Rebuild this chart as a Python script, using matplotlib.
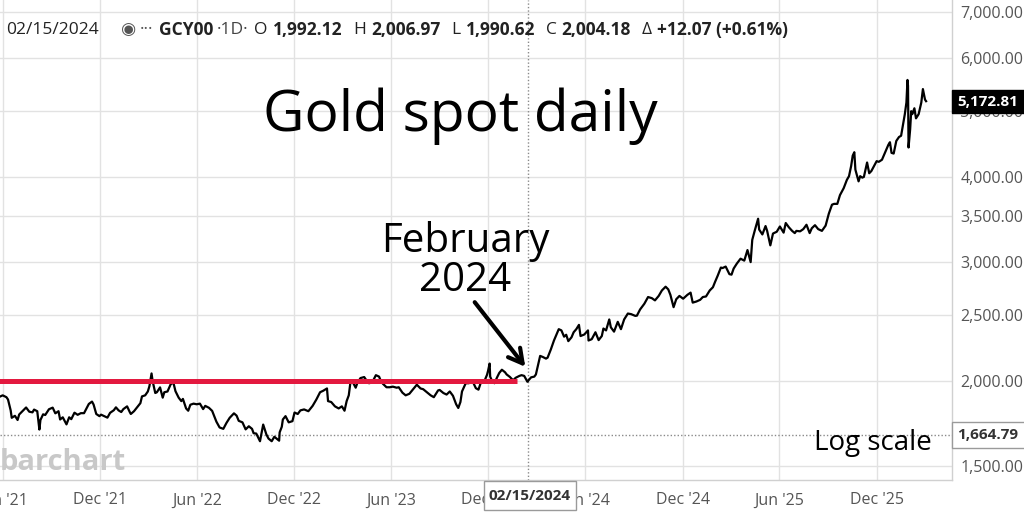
import matplotlib
matplotlib.use('Agg')
import matplotlib.pyplot as plt
import matplotlib.dates as mdates
from matplotlib.patches import Rectangle
from datetime import datetime
import math

plt.rcParams['font.family'] = ['Open Sans', 'DejaVu Sans']

# ---------------- data ----------------
d2021 = ["05-27","06-01","06-08","06-11","06-16","06-18","06-24","06-29","07-02","07-09","07-15","07-21","07-27","07-30",
         "08-05","08-09","08-11","08-16","08-20","08-27","09-03","09-08","09-14","09-17","09-22","09-29","10-04","10-08",
         "10-14","10-20","10-26","11-01","11-05","11-10","11-16","11-19","11-24","11-30","12-03","12-09","12-15","12-20",
         "12-27","12-31"]
p2021 = [1897,1905,1893,1878,1810,1765,1777,1752,1785,1808,1828,1802,1798,1815,
         1805,1696,1752,1786,1782,1817,1827,1792,1805,1755,1768,1726,1768,1757,
         1796,1783,1793,1793,1818,1850,1865,1846,1788,1775,1784,1775,1766,1795,
         1811,1829]

d2022 = ["01-05","01-10","01-14","01-21","01-26","01-28","02-03","02-09","02-15","02-18","02-24","03-01","03-04","03-08",
         "03-10","03-15","03-18","03-24","03-29","04-01","04-07","04-13","04-18","04-22","04-28","05-03","05-06","05-12",
         "05-16","05-20","05-26","06-01","06-07","06-13","06-17","06-24","06-30","07-05","07-08","07-14","07-21","07-27",
         "08-02","08-10","08-15","08-19","08-26","09-01","09-07","09-13","09-16","09-21","09-28","10-04","10-10","10-14",
         "10-20","10-25","11-03","11-04","11-08","11-10","11-15","11-21","11-28","12-02","12-08","12-13","12-20","12-28"]
p2022 = [1810,1800,1818,1835,1800,1788,1805,1830,1855,1898,1905,1930,1965,2052,
         2000,1920,1925,1957,1890,1925,1930,1978,1990,1932,1890,1868,1882,1822,
         1808,1845,1852,1848,1852,1818,1838,1826,1807,1765,1742,1708,1700,1735,
         1765,1792,1778,1747,1738,1697,1715,1700,1675,1673,1630,1725,1668,1645,
         1630,1655,1633,1680,1712,1755,1775,1738,1745,1797,1788,1810,1816,1805]

d2023 = ["01-05","01-12","01-19","01-25","02-01","02-03","02-09","02-16","02-23","03-01","03-06","03-10","03-14","03-17",
         "03-21","03-27","03-30","04-05","04-12","04-18","04-21","04-27","05-04","05-10","05-12","05-17","05-24","05-30",
         "06-05","06-12","06-16","06-23","06-29","07-06","07-12","07-20","07-27","08-01","08-08","08-15","08-21","08-29",
         "09-01","09-08","09-14","09-20","09-26","10-02","10-06","10-10","10-13","10-20","10-26","10-30","11-03","11-08",
         "11-13","11-17","11-24","11-29","12-01","12-04","12-05","12-08","12-13","12-18","12-22","12-27"]
p2023 = [1838,1878,1925,1935,1950,1868,1862,1835,1822,1835,1808,1868,1905,1988,
         1996,1955,1985,2020,2027,1995,1985,1990,2040,2030,2012,1982,1958,1958,
         1962,1955,1958,1922,1905,1915,1940,1975,1950,1945,1925,1905,1893,1937,
         1940,1920,1910,1930,1902,1848,1825,1862,1930,1985,1985,1998,1990,1952,
         1942,1985,1998,2042,2070,2122,2030,2005,1985,2025,2055,2078]

d2024 = ["01-02","01-05","01-11","01-17","01-22","01-29","02-02","02-07","02-13","02-15","02-20","02-26","02-29","03-05",
         "03-08","03-13","03-19","03-22","03-28","04-03","04-09","04-12","04-17","04-22","04-26","04-30","05-06","05-10",
         "05-15","05-20","05-23","05-30","06-06","06-07","06-13","06-20","06-26","07-02","07-05","07-10","07-16","07-19",
         "07-25","08-01","08-07","08-13","08-20","08-26","09-03","09-06","09-12","09-20","09-27","10-04","10-10","10-17",
         "10-23","10-30","11-04","11-08","11-14","11-19","11-25","12-02","12-10","12-16","12-20","12-27"]
p2024 = [2060,2045,2028,2005,2022,2035,2040,2035,1995,2004,2025,2030,2045,2125,
         2178,2170,2158,2165,2225,2295,2355,2385,2375,2325,2340,2290,2320,2360,
         2385,2420,2330,2342,2375,2295,2305,2360,2298,2330,2390,2375,2465,2400,
         2365,2445,2385,2465,2515,2510,2495,2497,2550,2600,2660,2650,2630,2670,
         2720,2755,2730,2680,2570,2640,2670,2645,2680,2700,2610,2620]

d2025 = ["01-03","01-08","01-14","01-21","01-27","01-31","02-05","02-11","02-14","02-20","02-27","03-03","03-07","03-13",
         "03-20","03-27","04-02","04-08","04-11","04-16","04-22","04-24","04-30","05-06","05-09","05-15","05-20","05-27",
         "06-02","06-09","06-13","06-19","06-25","06-30","07-03","07-10","07-16","07-22","07-28","08-01","08-07","08-13",
         "08-20","08-27","09-02","09-08","09-12","09-18","09-23","09-30","10-06","10-10","10-14","10-17","10-20","10-22",
         "10-28","10-31","11-04","11-07","11-13","11-17","11-21","11-26","12-01","12-05","12-11","12-17","12-23","12-26",
         "12-29"]
p2025 = [2635,2660,2665,2720,2750,2800,2860,2940,2935,2950,2875,2870,2930,2980,
         3030,3010,3120,2995,3230,3340,3470,3345,3290,3385,3330,3170,3300,3320,
         3380,3310,3420,3370,3330,3305,3330,3325,3350,3400,3305,3360,3395,3350,
         3330,3390,3530,3640,3650,3650,3760,3850,3960,4010,4150,4300,4350,4100,
         3940,4010,3990,4000,4200,4050,4080,4150,4220,4210,4240,4350,4460,4500,
         4340]

d2026 = ["01-02","01-07","01-12","01-16","01-20","01-23","01-26","01-28","01-29","01-30","02-02","02-04","02-06","02-10",
         "02-13","02-18","02-23","02-26","03-02","03-04"]
p2026 = [4330,4520,4580,4600,4800,4950,5150,5560,5450,4420,4700,5000,4950,5050,
         4880,4950,5150,5390,5200,5173]

red_level = 2000
red_start = "2021-05-20"
red_end = "2024-01-25"
cross_date = "2024-02-15"
cross_price = 1664.79
last_price = 5172.81
y_ticks = [1500, 2000, 2500, 3000, 3500, 4000, 5000, 6000, 7000]
x_tick_dates = ["2021-06-01", "2021-12-01", "2022-06-01", "2022-12-01", "2023-06-01", "2023-12-01",
                "2024-06-01", "2024-12-01", "2025-06-01", "2025-12-01"]
x_tick_labels = ["Jun '21", "Dec '21", "Jun '22", "Dec '22", "Jun '23", "Dec '23",
                 "Jun '24", "Dec '24", "Jun '25", "Dec '25"]
header = [("02/15/2024", 'normal', '#222222', 22), ("◉", 'normal', '#555555', 4),
          ("···", 'normal', '#555555', 6), ("GCY00", 'bold', '#222222', 3),
          ("·1D·", 'normal', '#444444', 6), ("O", 'normal', '#222222', 5),
          ("1,992.12", 'bold', '#222222', 11), ("H", 'normal', '#222222', 5),
          ("2,006.97", 'bold', '#222222', 11), ("L", 'normal', '#222222', 5),
          ("1,990.62", 'bold', '#222222', 11), ("C", 'normal', '#222222', 5),
          ("2,004.18", 'bold', '#222222', 11), ("Δ", 'normal', '#222222', 5),
          ("+12.07 (+0.61%)", 'bold', '#222222', 0)]

# ---------------- build series ----------------
dates, prices = [], []
for yr, ds, ps in [(2021, d2021, p2021), (2022, d2022, p2022), (2023, d2023, p2023),
                   (2024, d2024, p2024), (2025, d2025, p2025), (2026, d2026, p2026)]:
    assert len(ds) == len(ps), (yr, len(ds), len(ps))
    for d, p in zip(ds, ps):
        dates.append(datetime(yr, int(d[:2]), int(d[3:])))
        prices.append(p)

def dt(s):
    return datetime.strptime(s, "%Y-%m-%d")

W, H = 1024, 512
fig = plt.figure(figsize=(W / 100, H / 100), dpi=100)
fig.patch.set_facecolor('white')
ax = fig.add_axes([0, 32 / H, 952 / W, 480 / H])

ax.set_yscale('log')
ax.plot(dates, prices, color='black', lw=1.6, zorder=3, solid_joinstyle='round')
ax.plot([dt(red_start), dt(red_end)], [red_level, red_level], color='#e3193f', lw=3.6,
        solid_capstyle='butt', zorder=4)

# crosshair
ax.axvline(dt(cross_date), color='#8a8a8a', ls=(0, (1, 1.5)), lw=1, zorder=2)
ax.axhline(cross_price, color='#8a8a8a', ls=(0, (1, 1.5)), lw=1, zorder=2)

# axis limits (log scale)
log2000 = math.log10(2000)
ax.set_ylim(10 ** (log2000 - 99 / 678), 10 ** (log2000 + 381 / 678))
base = mdates.date2num(datetime(2021, 6, 1))
ppd = 0.5316
ax.set_xlim(base - 2.7 / ppd, base + (952 - 2.7) / ppd)

ax.yaxis.tick_right()
ax.set_yticks(y_ticks)
ax.set_yticklabels([f"{v:,.2f}" for v in y_ticks])
ax.yaxis.set_minor_locator(matplotlib.ticker.NullLocator())
ax.set_xticks([dt(s) for s in x_tick_dates])
ax.set_xticklabels(x_tick_labels)
ax.tick_params(axis='both', length=0, labelsize=11.5, labelcolor='#555555')
ax.tick_params(axis='y', pad=6)
ax.tick_params(axis='x', pad=9)
ax.grid(True, color='#e2e2e2', lw=1, zorder=0)
ax.set_axisbelow(True)
for s in ['top', 'left']:
    ax.spines[s].set_visible(False)
for s in ['right', 'bottom']:
    ax.spines[s].set_color('#d0d0d0')
    ax.spines[s].set_linewidth(1)

def rect_px(x0, y0, x1, y1, fc, ec):
    fig.add_artist(Rectangle((x0 / W, 1 - y1 / H), (x1 - x0) / W, (y1 - y0) / H,
                             transform=fig.transFigure, facecolor=fc, edgecolor=ec, lw=1, zorder=10))

def text_px(x, y, s, **kw):
    return fig.text(x / W, 1 - y / H, s, **kw)

# price boxes on the right axis
rect_px(952, 90, 1024, 113, 'black', 'black')
text_px(988, 101.5, f"{last_price:,.2f}", ha='center', va='center', color='white',
        fontsize=11, fontweight='bold', zorder=11)
rect_px(952, 422, 1030, 448, 'white', '#9a9a9a')
text_px(988, 435, f"{cross_price:,.2f}", ha='center', va='center', color='#333333',
        fontsize=11, fontweight='bold', zorder=11)
# date box on the x axis
rect_px(484, 481, 576, 510, 'white', '#9a9a9a')
text_px(530, 495.5, "02/15/2024", ha='center', va='center', color='#333333',
        fontsize=11, fontweight='bold', zorder=11)

# header (laid out left to right)
renderer = fig.canvas.get_renderer()
xh = 6
for s, w, c, gap in header:
    t = text_px(xh, 30, s, ha='left', va='center', fontsize=12.5, fontweight=w, color=c, zorder=11)
    bb = t.get_window_extent(renderer)
    xh += bb.width + gap

# annotations
text_px(460, 116, "Gold spot daily", ha='center', va='center', fontsize=41, color='black', zorder=11)
text_px(465, 261, "February\n2024", ha='center', va='center', fontsize=29, color='black',
        linespacing=0.92, zorder=11)
ax.annotate('', xy=(527, H - 369), xycoords='figure pixels', xytext=(473, H - 300),
            textcoords='figure pixels',
            arrowprops=dict(arrowstyle='->,head_length=1.0,head_width=0.55', lw=3, color='black'),
            zorder=11)
text_px(873, 443, "Log scale", ha='center', va='center', fontsize=20, color='black', zorder=11)
text_px(0, 462, "barchart", ha='left', va='center', fontsize=21, fontweight='bold',
        color='#c8c8c8', zorder=1)

fig.savefig('out.png', dpi=100)
